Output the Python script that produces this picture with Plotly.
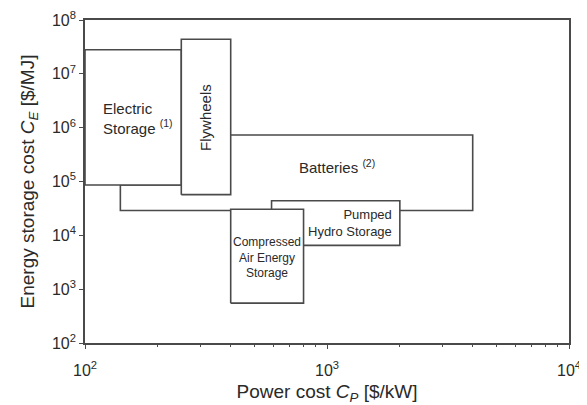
import math
import plotly.graph_objects as go

# storage technology regions, power cost Cp [$/kW] vs energy cost Ce [$/MJ]
electric_x = [100, 250, 250, 100]
electric_y = [8.6e4, 8.6e4, 2.8e7, 2.8e7]

flywheel_x = [250, 400, 400, 250]
flywheel_y = [5.7e4, 5.7e4, 4.4e7, 4.4e7]

battery_x = [140, 140, 4000, 4000, 250, 250]
battery_y = [8.6e4, 2.9e4, 2.9e4, 7.3e5, 7.3e5, 8.6e4]

hydro_x = [590, 2000, 2000, 590]
hydro_y = [6.5e3, 6.5e3, 4.4e4, 4.4e4]

caes_x = [400, 800, 800, 400]
caes_y = [550, 550, 3.05e4, 3.05e4]

x_tickvals = [100, 1000, 10000]
x_ticktext = ["10<sup>2</sup>", "10<sup>3</sup>", "10<sup>4</sup>"]
y_tickvals = [1e2, 1e3, 1e4, 1e5, 1e6, 1e7, 1e8]
y_ticktext = ["10<sup>%d</sup>" % k for k in range(2, 9)]
x_minor = [m * d for d in (100, 1000) for m in range(2, 10)]

LINE = "#4a4a4a"
TEXT = "#2a2a2a"
FONT = "Liberation Sans, Arial, sans-serif"

fig = go.Figure()

# drawing order matters: later shapes cover earlier outlines
regions = [
    (battery_x, battery_y),
    (electric_x, electric_y),
    (flywheel_x, flywheel_y),
    (hydro_x, hydro_y),
    (caes_x, caes_y),
]
for xs, ys in regions:
    fig.add_trace(go.Scatter(
        x=xs + xs[:1], y=ys + ys[:1], mode="lines", fill="toself",
        fillcolor="white", line=dict(color=LINE, width=1.6),
        hoverinfo="skip", showlegend=False,
    ))

# label anchors (data units), text, font size, alignment, angle
labels = [
    (166, 1.5e6, "Electric<br>Storage <sup>(1)</sup>", 15, "left", 0),
    (316, 1.58e6, "Flywheels", 15, "center", -90),
    (1100, 1.86e5, "Batteries <sup>(2)</sup>", 15, "center", 0),
    (1240, 1.66e4, "Pumped<br>Hydro Storage", 13, "right", 0),
    (565, 3.95e3, "Compressed<br>Air Energy<br>Storage", 12, "center", 0),
]
for lx, ly, txt, size, align, ang in labels:
    # annotation positions on log axes are given in log10 units
    fig.add_annotation(
        x=math.log10(lx), y=math.log10(ly), xref="x", yref="y",
        text=txt, showarrow=False, align=align, textangle=ang,
        font=dict(size=size, color=TEXT, family=FONT),
    )

fig.update_xaxes(
    type="log", range=[2, 4], tickvals=x_tickvals, ticktext=x_ticktext,
    ticks="outside", ticklen=4, tickcolor=LINE, tickwidth=1.2,
    ticklabelstandoff=8,
    showline=True, linecolor=LINE, linewidth=1.6, mirror=True,
    showgrid=False, zeroline=False, automargin=False,
    minor=dict(tickvals=x_minor, ticks="outside", ticklen=2, tickcolor=LINE, showgrid=False),
    tickfont=dict(size=16, color=TEXT, family=FONT),
    title=dict(text="Power cost <i>C<sub>P</sub></i> [$/kW]", standoff=10,
               font=dict(size=19, color=TEXT, family=FONT)),
)
fig.update_yaxes(
    type="log", range=[2, 8], tickvals=y_tickvals, ticktext=y_ticktext,
    ticks="outside", ticklen=4, tickcolor=LINE, tickwidth=1.2,
    showline=True, linecolor=LINE, linewidth=1.6, mirror=True,
    showgrid=False, zeroline=False, automargin=False,
    tickfont=dict(size=16, color=TEXT, family=FONT),
    title=dict(text="Energy storage cost <i>C<sub>E</sub></i> [$/MJ]", standoff=12,
               font=dict(size=19, color=TEXT, family=FONT)),
)
# the page body adds an 8px offset, so the figure is sized and placed to suit
fig.update_layout(
    width=579, height=397,
    margin=dict(l=77, r=18, t=12, b=62),
    plot_bgcolor="white", paper_bgcolor="white",
    font=dict(family=FONT),
)

fig.write_html("out.html")
